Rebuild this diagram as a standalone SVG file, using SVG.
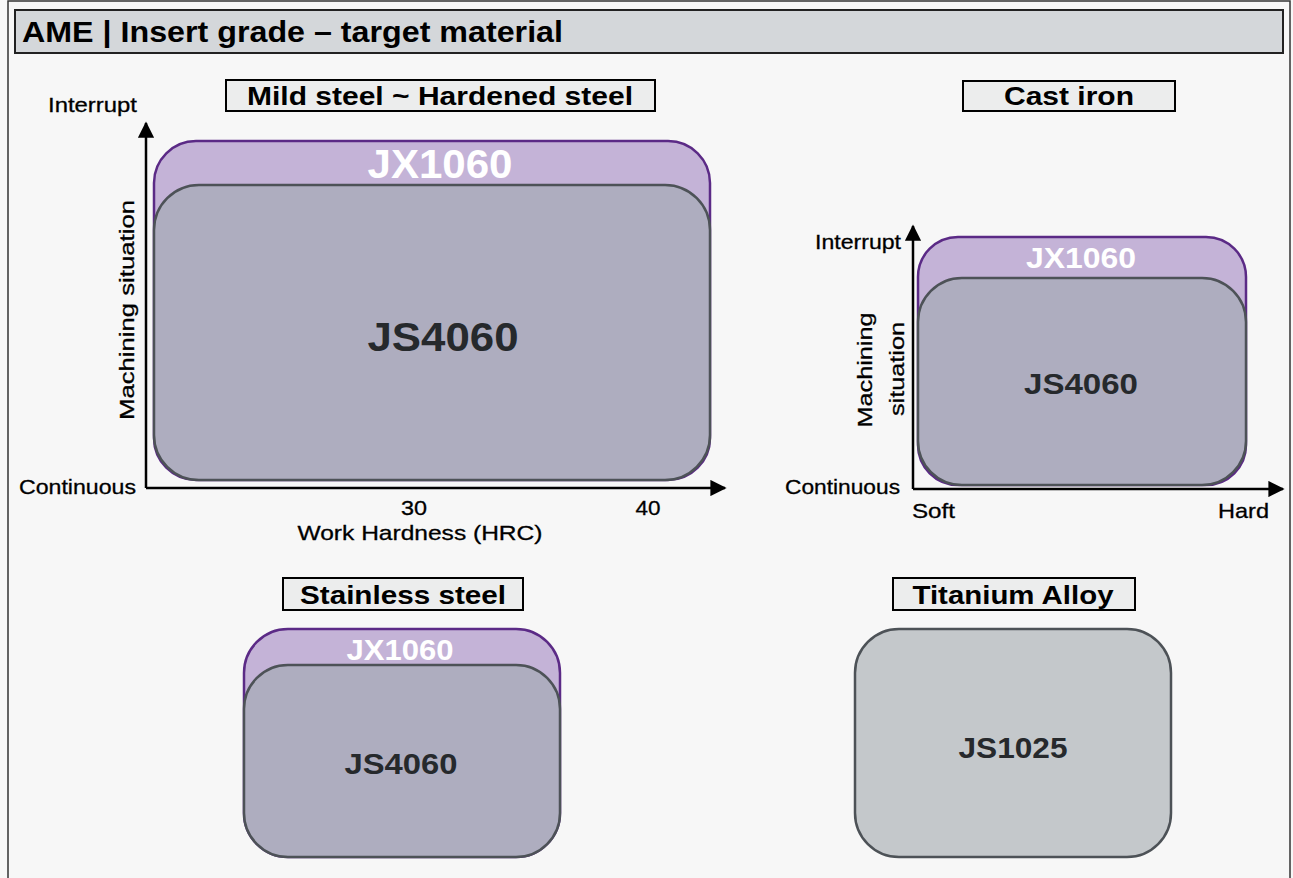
<svg xmlns="http://www.w3.org/2000/svg" width="1293" height="878" viewBox="0 0 1293 878">
<defs>
<style>
text{font-family:"Liberation Sans",Arial,Helvetica,sans-serif;}
.lbl{fill:#eceded;stroke:#000;stroke-width:2;}
.lt{font-size:26px;font-weight:bold;fill:#000;text-anchor:middle;}
.ax{stroke:#000;stroke-width:2.5;fill:none;}
.jx{fill:#c4b3d7;stroke:#5b2a86;stroke-width:2.5;}
.js{fill:#aeadbf;stroke:#4d5257;stroke-width:2.5;}
.jsg{fill:#c4c8cb;stroke:#4d5257;stroke-width:2.5;}
.jxt{font-weight:bold;fill:#fff;text-anchor:middle;}
.jst{font-weight:bold;fill:#26292c;text-anchor:middle;}
.at{font-size:21px;fill:#000;stroke:#000;stroke-width:0.3;}
</style>
<marker id="arr" viewBox="0 0 10 10" refX="9" refY="5" markerWidth="6.5" markerHeight="6.5" markerUnits="strokeWidth" orient="auto">
<path d="M0,0 L10,5 L0,10 z" fill="#000"/>
</marker>
</defs>
<rect x="0" y="0" width="1293" height="878" fill="#f7f7f7"/>
<rect x="8" y="1" width="1282" height="890" fill="#f7f7f7" stroke="#333" stroke-width="1.5"/>
<g id="title">
<rect x="15" y="10" width="1268" height="43" fill="#d4d7da" stroke="#222" stroke-width="2"/>
<text x="22" y="42" font-size="30" font-weight="bold" fill="#000" textLength="541" lengthAdjust="spacingAndGlyphs">AME | Insert grade – target material</text>
</g>
<g id="connectors">
<path class="ax" d="M146,488 V123" marker-end="url(#arr)"/>
<path class="ax" d="M146,488 H725" marker-end="url(#arr)"/>
<path class="ax" d="M913,489 V226" marker-end="url(#arr)"/>
<path class="ax" d="M913,489 H1283" marker-end="url(#arr)"/>
</g>
<g id="mild-steel">
<rect class="lbl" x="226" y="80" width="429" height="31"/>
<text class="lt" x="440" y="105" textLength="386" lengthAdjust="spacingAndGlyphs">Mild steel ~ Hardened steel</text>
<text class="at" x="48" y="112" textLength="89" lengthAdjust="spacingAndGlyphs">Interrupt</text>
<text class="at" x="19" y="494" textLength="117" lengthAdjust="spacingAndGlyphs">Continuous</text>
<text class="at" x="134" y="310" text-anchor="middle" transform="rotate(-90 134 310)" textLength="220" lengthAdjust="spacingAndGlyphs">Machining situation</text>
<text class="at" x="414" y="515" text-anchor="middle" textLength="26" lengthAdjust="spacingAndGlyphs">30</text>
<text class="at" x="648" y="515" text-anchor="middle" textLength="25" lengthAdjust="spacingAndGlyphs">40</text>
<text class="at" x="420" y="540" text-anchor="middle" textLength="245" lengthAdjust="spacingAndGlyphs">Work Hardness (HRC)</text>
</g>
<g id="mild-jx1060">
<rect class="jx" x="154" y="141" width="556" height="339" rx="42" ry="42"/>
<text class="jxt" x="440" y="178" font-size="40" textLength="145" lengthAdjust="spacingAndGlyphs">JX1060</text>
</g>
<g id="mild-js4060">
<rect class="js" x="154" y="185" width="556" height="295" rx="45" ry="45"/>
<text class="jst" x="443" y="351" font-size="40" textLength="151" lengthAdjust="spacingAndGlyphs">JS4060</text>
</g>
<g id="cast-iron">
<rect class="lbl" x="963" y="81" width="212" height="30"/>
<text class="lt" x="1069" y="105" textLength="130" lengthAdjust="spacingAndGlyphs">Cast iron</text>
<text class="at" x="901" y="249" text-anchor="end" textLength="86" lengthAdjust="spacingAndGlyphs">Interrupt</text>
<text class="at" x="900" y="494" text-anchor="end" textLength="115" lengthAdjust="spacingAndGlyphs">Continuous</text>
<text class="at" x="872" y="370" text-anchor="middle" transform="rotate(-90 872 370)" textLength="115" lengthAdjust="spacingAndGlyphs">Machining</text>
<text class="at" x="904" y="369" text-anchor="middle" transform="rotate(-90 904 369)" textLength="94" lengthAdjust="spacingAndGlyphs">situation</text>
<text class="at" x="912" y="518" textLength="43" lengthAdjust="spacingAndGlyphs">Soft</text>
<text class="at" x="1269" y="518" text-anchor="end" textLength="51" lengthAdjust="spacingAndGlyphs">Hard</text>
</g>
<g id="cast-jx1060">
<rect class="jx" x="918" y="237" width="328" height="248" rx="40" ry="40"/>
<text class="jxt" x="1081" y="268" font-size="30" textLength="110" lengthAdjust="spacingAndGlyphs">JX1060</text>
</g>
<g id="cast-js4060">
<rect class="js" x="918" y="278" width="328" height="207" rx="44" ry="44"/>
<text class="jst" x="1081" y="394" font-size="30" textLength="114" lengthAdjust="spacingAndGlyphs">JS4060</text>
</g>
<g id="stainless">
<rect class="lbl" x="283" y="578" width="240" height="32"/>
<text class="lt" x="403" y="604" textLength="206" lengthAdjust="spacingAndGlyphs">Stainless steel</text>
</g>
<g id="stainless-jx1060">
<rect class="jx" x="244" y="629" width="316" height="228" rx="44" ry="44"/>
<text class="jxt" x="400" y="660" font-size="30" textLength="107" lengthAdjust="spacingAndGlyphs">JX1060</text>
</g>
<g id="stainless-js4060">
<rect class="js" x="244" y="665" width="316" height="192" rx="44" ry="44"/>
<text class="jst" x="401" y="774" font-size="30" textLength="113" lengthAdjust="spacingAndGlyphs">JS4060</text>
</g>
<g id="titanium">
<rect class="lbl" x="893" y="578" width="242" height="32"/>
<text class="lt" x="1013" y="604" textLength="201" lengthAdjust="spacingAndGlyphs">Titanium Alloy</text>
</g>
<g id="titanium-js1025">
<rect class="jsg" x="855" y="629" width="316" height="228" rx="44" ry="44"/>
<text class="jst" x="1013" y="758" font-size="30" textLength="109" lengthAdjust="spacingAndGlyphs">JS1025</text>
</g>
</svg>
